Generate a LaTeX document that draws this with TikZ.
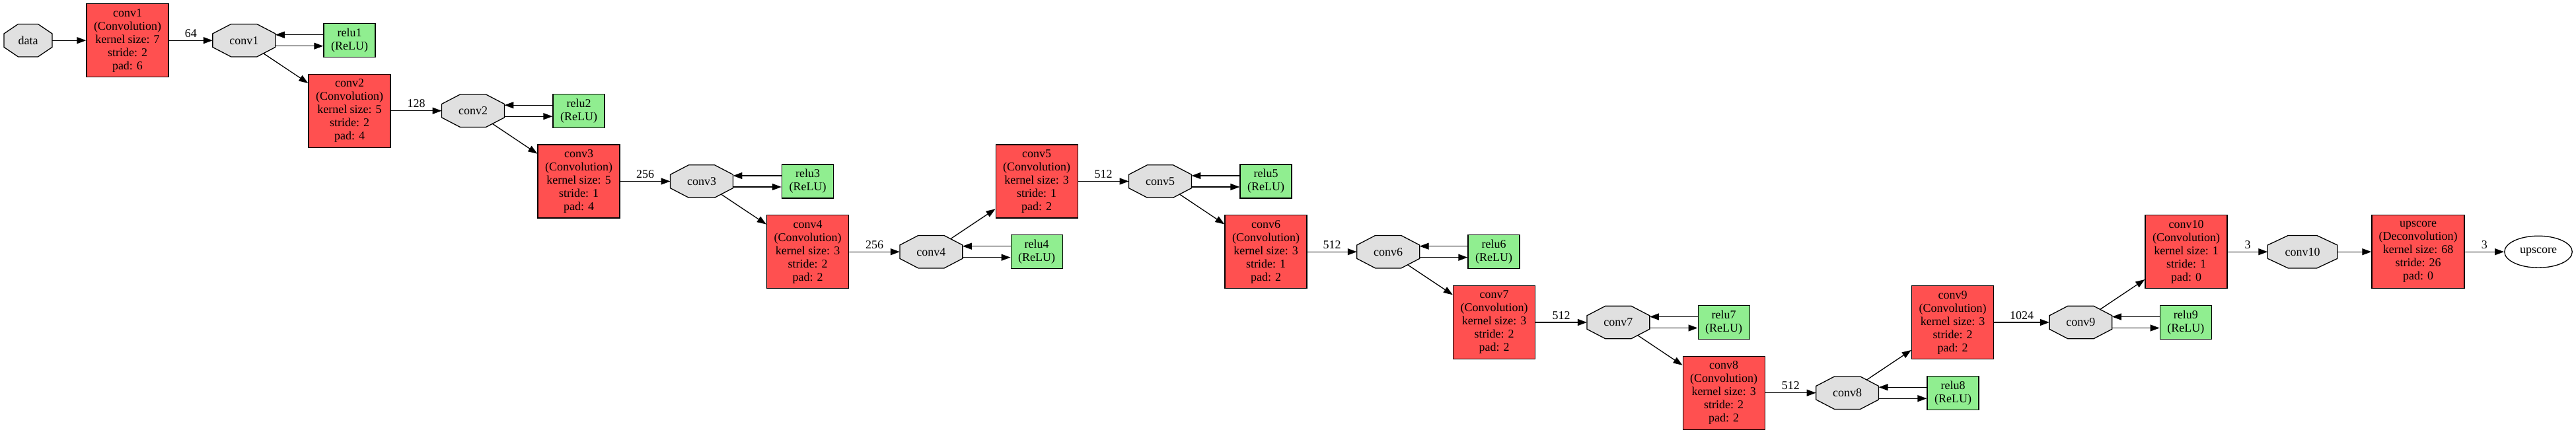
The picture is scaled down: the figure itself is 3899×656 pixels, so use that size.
\documentclass[tikz,border=0pt]{standalone}
\usepackage{fontspec}
\setmainfont{Liberation Serif}
\usetikzlibrary{arrows.meta,calc,backgrounds,shapes.geometric}
\definecolor{convred}{HTML}{FF5050}
\definecolor{blobgray}{HTML}{E0E0E0}
\definecolor{relugreen}{HTML}{90EE90}
\newcommand\octo[1]{%
  \path[octline] ($(#1.west)!0.414!(#1.north west)$) -- ($(#1.north)!0.414!(#1.north west)$) -- ($(#1.north)!0.414!(#1.north east)$) -- ($(#1.east)!0.414!(#1.north east)$) -- ($(#1.east)!0.414!(#1.south east)$) -- ($(#1.south)!0.414!(#1.south east)$) -- ($(#1.south)!0.414!(#1.south west)$) -- ($(#1.west)!0.414!(#1.south west)$) -- cycle;}
\begin{document}
\begin{tikzpicture}[x=1pt,y=-1pt,
  every node/.style={font=\fontsize{18}{20}\selectfont},
  convbox/.style={draw=black, line width=1.3pt, fill=convred, minimum width=124pt, minimum height=111pt, inner xsep=10.5pt, inner ysep=0pt, align=center},
  relubox/.style={draw=black, line width=1.3pt, fill=relugreen, minimum width=78pt, minimum height=51pt, inner sep=0pt, align=center},
  blob/.style={minimum width=94.5pt, minimum height=49pt, inner sep=0pt},
  outblob/.style={draw=black, line width=1.3pt, ellipse, fill=white, minimum width=102.5pt, minimum height=48pt, inner sep=0pt},
  octline/.style={draw=black, fill=blobgray, line width=1.3pt},
  conn/.style={line width=1.3pt, -{Triangle[length=14pt,width=10pt]}},
  diagconn/.style={conn, shorten <=35pt},
  elabel/.style={midway, above, inner sep=4pt},
]
\useasboundingbox (0,0) rectangle (3899,656);
% rows: 61, 167.7, 274.5, 381.2, 488, 594.7
\node[blob, minimum width=72.5pt] (data) at (42.5,61.2) {data};
\node[convbox] (c1b) at (193,61.2) {conv1\\(Convolution)\\kernel size: 7\\stride: 2\\pad: 6};
\node[blob] (c1o) at (369.3,61.2) {conv1};
\node[relubox] (r1) at (529,61.2) {relu1\\(ReLU)};
\node[convbox] (c2b) at (529,167.7) {conv2\\(Convolution)\\kernel size: 5\\stride: 2\\pad: 4};
\node[blob] (c2o) at (716,167.7) {conv2};
\node[relubox] (r2) at (876,167.7) {relu2\\(ReLU)};
\node[convbox] (c3b) at (876,274.5) {conv3\\(Convolution)\\kernel size: 5\\stride: 1\\pad: 4};
\node[blob] (c3o) at (1062,274.5) {conv3};
\node[relubox] (r3) at (1222.5,274.5) {relu3\\(ReLU)};
\node[convbox] (c4b) at (1222.5,381.2) {conv4\\(Convolution)\\kernel size: 3\\stride: 2\\pad: 2};
\node[blob] (c4o) at (1409.4,381.2) {conv4};
\node[relubox] (r4) at (1569.2,381.2) {relu4\\(ReLU)};
\node[convbox] (c5b) at (1569.2,274.5) {conv5\\(Convolution)\\kernel size: 3\\stride: 1\\pad: 2};
\node[blob] (c5o) at (1756,274.5) {conv5};
\node[relubox] (r5) at (1916,274.5) {relu5\\(ReLU)};
\node[convbox] (c6b) at (1916,381.2) {conv6\\(Convolution)\\kernel size: 3\\stride: 1\\pad: 2};
\node[blob] (c6o) at (2101.2,381.2) {conv6};
\node[relubox] (r6) at (2261,381.2) {relu6\\(ReLU)};
\node[convbox] (c7b) at (2261.5,488) {conv7\\(Convolution)\\kernel size: 3\\stride: 2\\pad: 2};
\node[blob] (c7o) at (2449.4,488) {conv7};
\node[relubox] (r7) at (2609.2,488) {relu7\\(ReLU)};
\node[convbox] (c8b) at (2609.2,594.7) {conv8\\(Convolution)\\kernel size: 3\\stride: 2\\pad: 2};
\node[blob] (c8o) at (2796.1,594.7) {conv8};
\node[relubox] (r8) at (2956,594.7) {relu8\\(ReLU)};
\node[convbox] (c9b) at (2955.5,488) {conv9\\(Convolution)\\kernel size: 3\\stride: 2\\pad: 2};
\node[blob] (c9o) at (3149.3,488) {conv9};
\node[relubox] (r9) at (3308.3,488) {relu9\\(ReLU)};
\node[convbox] (c10b) at (3309,381.2) {conv10\\(Convolution)\\kernel size: 1\\stride: 1\\pad: 0};
\node[blob, minimum width=105pt] (c10o) at (3485,381.2) {conv10};
\node[convbox] (upb) at (3660,381.2) {upscore\\(Deconvolution)\\kernel size: 68\\stride: 26\\pad: 0};
\node[outblob] (up) at (3842,381.2) {upscore};
\begin{scope}[on background layer]
\foreach \n in {data,c1o,c2o,c3o,c4o,c5o,c6o,c7o,c8o,c9o,c10o}{\octo{\n}}
\end{scope}
% main chain
\draw[conn] (data) -- (c1b);
\draw[conn] (c1b) -- (c1o) node[elabel]{64};
\draw[conn] (c2b) -- (c2o) node[elabel]{128};
\draw[conn] (c3b) -- (c3o) node[elabel]{256};
\draw[conn] (c4b) -- (c4o) node[elabel]{256};
\draw[conn] (c5b) -- (c5o) node[elabel]{512};
\draw[conn] (c6b) -- (c6o) node[elabel]{512};
\draw[conn] (c7b) -- (c7o) node[elabel]{512};
\draw[conn] (c8b) -- (c8o) node[elabel]{512};
\draw[conn] (c9b) -- (c9o) node[elabel]{1024};
\draw[conn] (c10b) -- (c10o) node[elabel]{3};
\draw[conn] (c10o) -- (upb);
\draw[conn] (upb) -- (up) node[elabel]{3};
% diagonal links
\draw[diagconn] (c1o.center) -- (c2b);
\draw[diagconn] (c2o.center) -- (c3b);
\draw[diagconn] (c3o.center) -- (c4b);
\draw[diagconn] (c4o.center) -- (c5b);
\draw[diagconn] (c5o.center) -- (c6b);
\draw[diagconn] (c6o.center) -- (c7b);
\draw[diagconn] (c7o.center) -- (c8b);
\draw[diagconn] (c8o.center) -- (c9b);
\draw[diagconn] (c9o.center) -- (c10b);
% relu in-place loops
\foreach \o/\r in {c1o/r1,c2o/r2,c3o/r3,c4o/r4,c5o/r5,c6o/r6,c7o/r7,c8o/r8,c9o/r9}{
  \draw[conn] ([yshift=-8.5pt]\o.east) -- ([yshift=-8.5pt]\r.west);
  \draw[conn] ([yshift=8.5pt]\r.west) -- ([yshift=8.5pt]\o.east);
}
\end{tikzpicture}
\end{document}
